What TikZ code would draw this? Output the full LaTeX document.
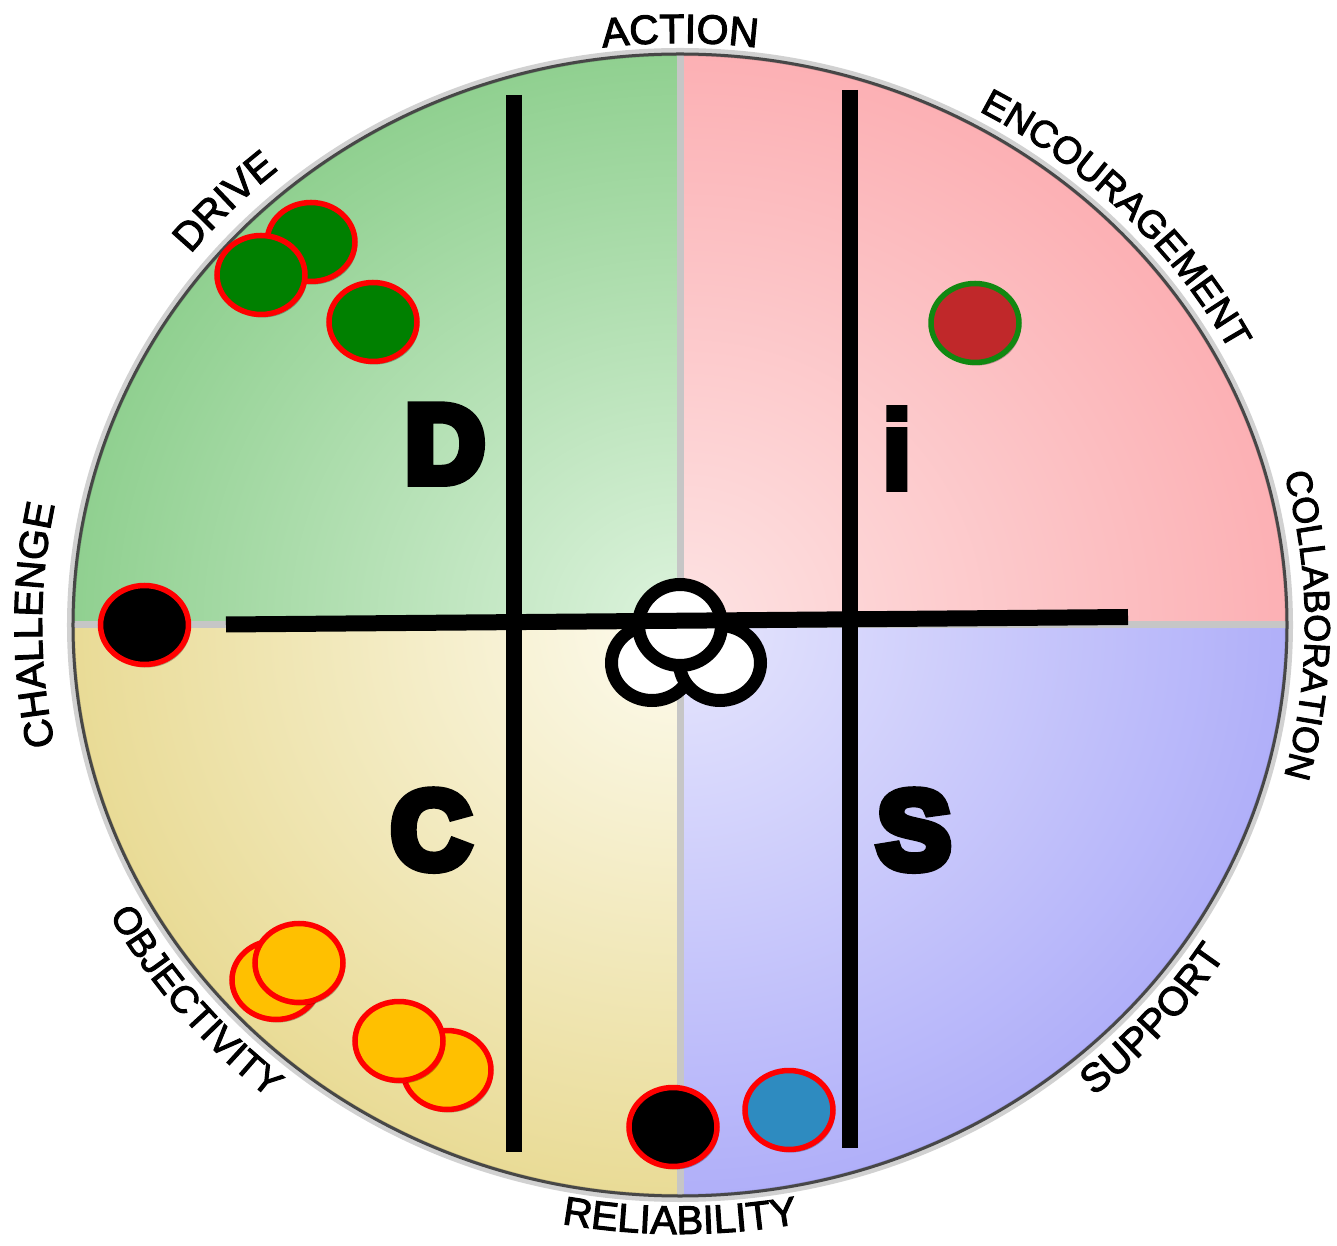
\documentclass[tikz,border=0pt]{standalone}
\usepackage{fontspec}
\usetikzlibrary{shapes.geometric,shadows,decorations.text}

% label and letter fonts
\newfontfamily\lblfam{Liberation Sans}[FakeBold=2.5]
\newfontfamily\discfam{Liberation Sans}[BoldFeatures={FakeBold=9}]
\newfontfamily\discthin{Liberation Sans}[BoldFeatures={FakeBold=5}]
\newcommand\lf{\lblfam\fontsize{40}{40}\selectfont}

% quadrant colours (inner = near the centre, outer = rim)
\definecolor{gIn}{HTML}{DDF3DD}\definecolor{gOut}{HTML}{90D090}
\definecolor{pIn}{HTML}{FDE3E3}\definecolor{pOut}{HTML}{FCB0B4}
\definecolor{yIn}{HTML}{FDFBEE}\definecolor{yOut}{HTML}{E9DB96}
\definecolor{bIn}{HTML}{E6E6FD}\definecolor{bOut}{HTML}{B0AFF9}
\definecolor{coinGreen}{HTML}{008000}
\definecolor{coinRed}{HTML}{C0282A}
\definecolor{coinRim}{HTML}{118811}
\definecolor{coinGold}{HTML}{FFC000}
\definecolor{coinBlue}{HTML}{2E8BC0}
\definecolor{divider}{HTML}{C6C6C6}

\pgfdeclareradialshading{shGreen}{\pgfpointorigin}{color(0bp)=(gIn); color(25bp)=(gOut); color(50bp)=(gOut)}
\pgfdeclareradialshading{shPink}{\pgfpointorigin}{color(0bp)=(pIn); color(25bp)=(pOut); color(50bp)=(pOut)}
\pgfdeclareradialshading{shYellow}{\pgfpointorigin}{color(0bp)=(yIn); color(25bp)=(yOut); color(50bp)=(yOut)}
\pgfdeclareradialshading{shBlue}{\pgfpointorigin}{color(0bp)=(bIn); color(25bp)=(bOut); color(50bp)=(bOut)}

\begin{document}
\begin{tikzpicture}[x=1pt,y=1pt,
  coin/.style={ellipse, draw=red, line width=5.5pt, inner sep=0pt,
    minimum width=88pt, minimum height=79pt,
    drop shadow={shadow xshift=2pt, shadow yshift=-3pt, opacity=.28, fill=black}},
  hub/.style={ellipse, draw=black, fill=white, line width=13pt, inner sep=0pt},
  bar/.style={line width=16pt, black},
  disc/.style={font=\discfam\bfseries\fontsize{110}{110}\selectfont, inner sep=0pt, anchor=base},
  rimtext/.style={decorate, decoration={text along path, text align=center, text={#1}}}
]
\useasboundingbox[fill=white] (-680,-621) rectangle (657,625);

% ---- four shaded quadrants ----
\begin{scope}
  \clip (0,0) -- (0,571) arc[start angle=90,end angle=180,x radius=607pt,y radius=571pt] -- cycle;
  \shade[shading=shGreen] (0,0) ellipse[x radius=607pt,y radius=571pt];
\end{scope}
\begin{scope}
  \clip (0,0) -- (607,0) arc[start angle=0,end angle=90,x radius=607pt,y radius=571pt] -- cycle;
  \shade[shading=shPink] (0,0) ellipse[x radius=607pt,y radius=571pt];
\end{scope}
\begin{scope}
  \clip (0,0) -- (-607,0) arc[start angle=180,end angle=270,x radius=607pt,y radius=571pt] -- cycle;
  \shade[shading=shYellow] (0,0) ellipse[x radius=607pt,y radius=571pt];
\end{scope}
\begin{scope}
  \clip (0,0) -- (0,-571) arc[start angle=270,end angle=360,x radius=607pt,y radius=571pt] -- cycle;
  \shade[shading=shBlue] (0,0) ellipse[x radius=607pt,y radius=571pt];
\end{scope}

% ---- grey dividers and rim ----
\begin{scope}
  \clip (0,0) ellipse[x radius=607pt,y radius=571pt];
  \draw[divider, line width=7pt] (0,575) -- (0,-575);
  \draw[divider, line width=7pt] (-610,0) -- (610,0);
\end{scope}
\draw[black, opacity=.18, line width=8pt] (0,0) ellipse[x radius=609pt,y radius=573pt];
\draw[black!72, line width=3pt] (0,0) ellipse[x radius=607pt,y radius=571pt];

% ---- rim labels ----
\path[rimtext={|\lf|CHALLENGE}] (215:638pt and 602pt) arc[start angle=215,end angle=145,x radius=638pt,y radius=602pt];
\path[rimtext={|\lf|DRIVE}] (171:628pt and 592pt) arc[start angle=171,end angle=101,x radius=628pt,y radius=592pt];
\path[rimtext={|\lblfam\fontsize{41}{41}\selectfont|ACTION}] (125:618pt and 582pt) arc[start angle=125,end angle=55,x radius=618pt,y radius=582pt];
\path[rimtext={|\lblfam\fontsize{38}{38}\selectfont|ENCOURAGEMENT}] (84:622pt and 586pt) arc[start angle=84,end angle=4,x radius=622pt,y radius=586pt];
\path[rimtext={|\lblfam\fontsize{36}{36}\selectfont|COLLABORATION}] (40:625pt and 589pt) arc[start angle=40,end angle=-40,x radius=625pt,y radius=589pt];
\path[rimtext={|\lf|SUPPORT}] (-76:648pt and 612pt) arc[start angle=-76,end angle=-6,x radius=648pt,y radius=612pt];
\path[rimtext={|\lf|RELIABILITY}] (235:645pt and 609pt) arc[start angle=235,end angle=305,x radius=645pt,y radius=609pt];
\path[rimtext={|\lblfam\fontsize{38}{38}\selectfont|OBJECTIVITY}] (184:648pt and 612pt) arc[start angle=184,end angle=254,x radius=648pt,y radius=612pt];

% ---- coins ----
\node[coin, fill=coinGreen] (g1) at (-369,383) {};
\node[coin, fill=coinGreen] (g2) at (-419,350) {};
\node[coin, fill=coinGreen] (g3) at (-307,303) {};
\node[coin, fill=coinRed, draw=coinRim] (r1) at (295,302) {};
\node[coin, fill=black] (k1) at (-535.5,0) {};
\node[coin, fill=coinGold] (y1) at (-404,-355) {};
\node[coin, fill=coinGold] (y2) at (-381,-338) {};
\node[coin, fill=coinGold] (y4) at (-233,-445) {};
\node[coin, fill=coinGold] (y3) at (-281,-416) {};
\node[coin, fill=black] (k2) at (-7,-502) {};
\node[coin, fill=coinBlue] (b1) at (109,-485) {};

% ---- hub of three white rings ----
\node[hub, minimum width=81pt, minimum height=75pt] (w2) at (-28,-38) {};
\node[hub, minimum width=81pt, minimum height=75pt] (w3) at (40,-38) {};
\node[hub, minimum width=83pt, minimum height=81pt] (w1) at (0,0) {};

% ---- black axes ----
\coordinate (hl) at (-454,0.5);
\coordinate (hr) at (448,8);
\coordinate (v1t) at (-166.5,530);
\coordinate (v1b) at (-166.5,-527);
\coordinate (v2t) at (170,535);
\coordinate (v2b) at (170,-523);
\draw[bar] (v1t) -- (v1b);
\draw[bar] (v2t) -- (v2b);
\draw[bar] (hl) -- (hr);

% ---- quadrant letters ----
\node[disc] (lD) at (-235,143) {D};
\node[disc, font=\discthin\bfseries\fontsize{112}{112}\selectfont] (li) at (217,136) {i};
\node[disc] (lC) at (-249,-243) {C};
\node[disc] (lS) at (234,-243) {S};
\end{tikzpicture}
\end{document}
